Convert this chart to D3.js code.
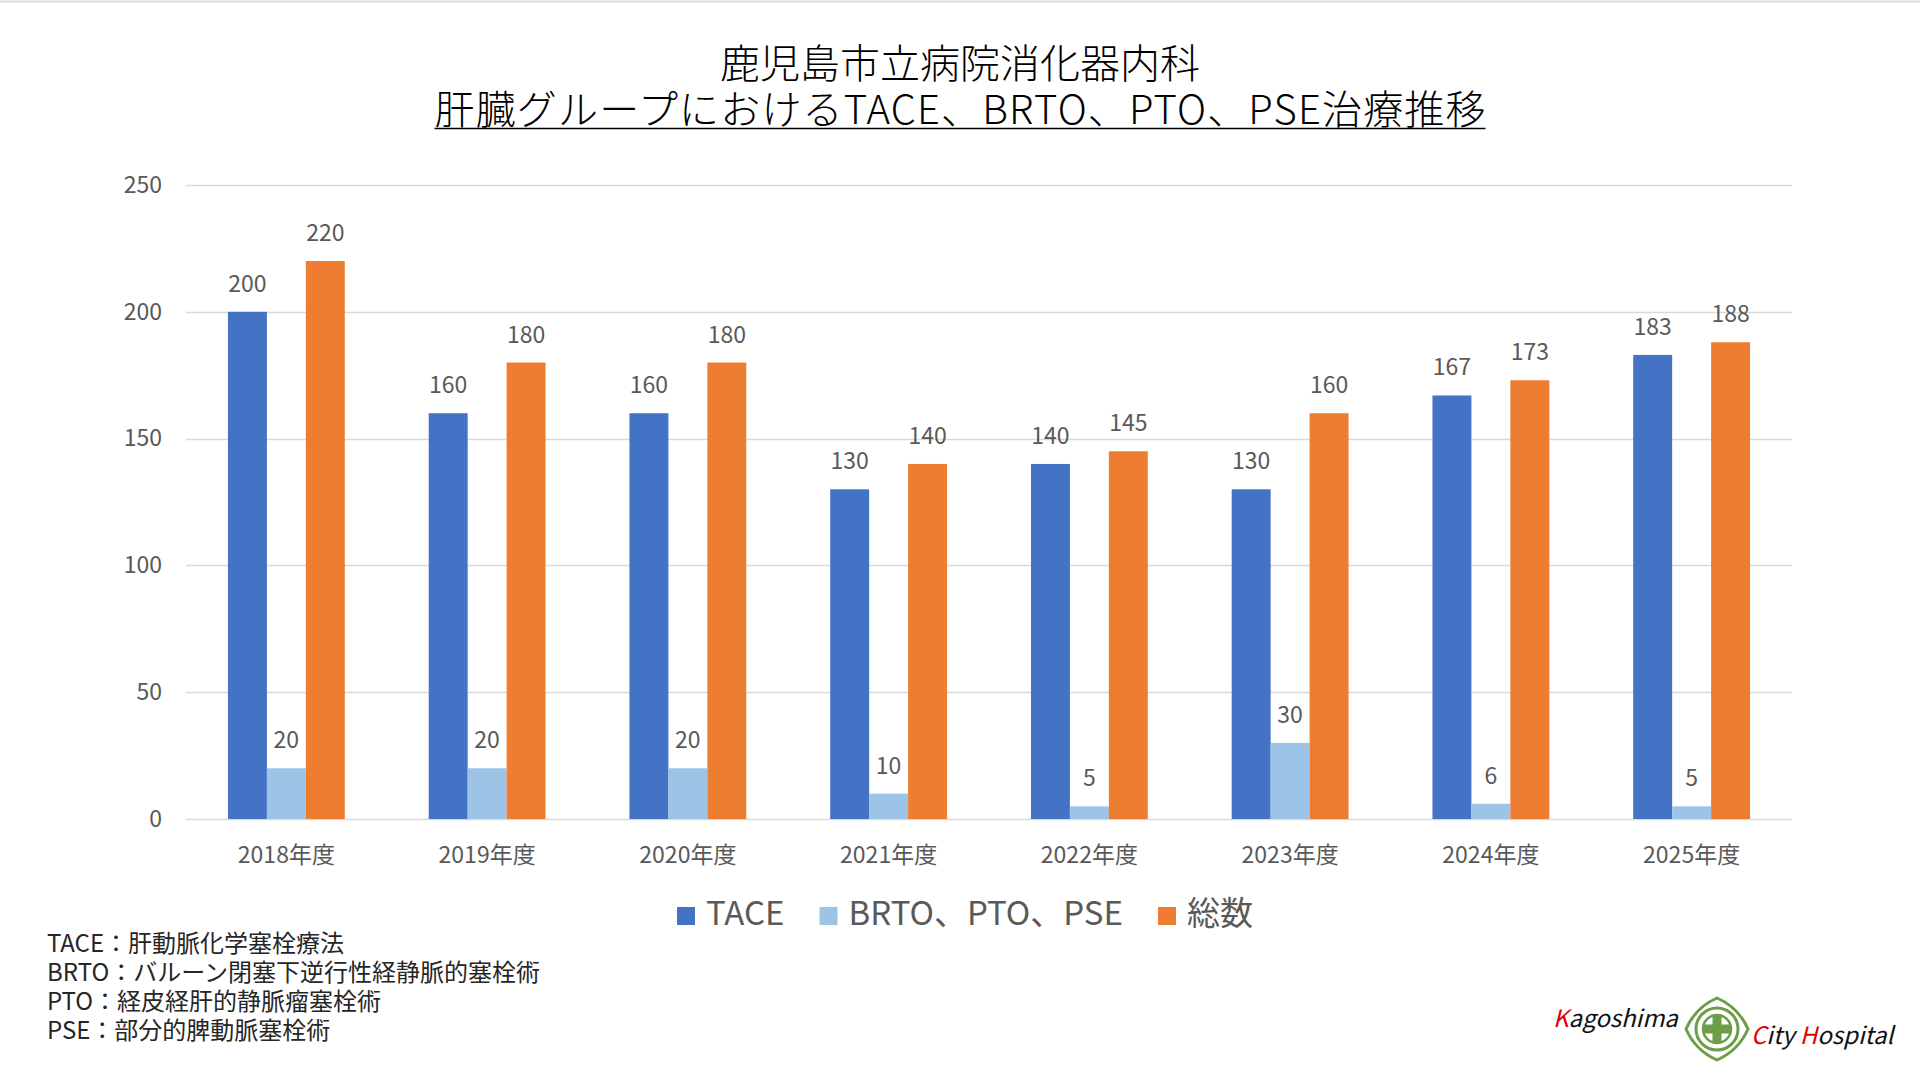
<!DOCTYPE html>
<html>
<head>
<meta charset="utf-8">
<script src="https://cdn.jsdelivr.net/npm/d3@7"></script>
<style>
  html, body { margin: 0; padding: 0; background: #fff; }
  svg { display: block; }
  text { font-family: "Noto Sans CJK JP", "Noto Sans", sans-serif; }
</style>
</head>
<body>
<svg width="1920" height="1080"></svg>
<script>
const years = ["2018年度", "2019年度", "2020年度", "2021年度", "2022年度", "2023年度", "2024年度", "2025年度"];
const tace = [200, 160, 160, 130, 140, 130, 167, 183];
const brto = [20, 20, 20, 10, 5, 30, 6, 5];
const total = [220, 180, 180, 140, 145, 160, 173, 188];
const seriesNames = ["TACE", "BRTO、PTO、PSE", "総数"];
const yTicks = [0, 50, 100, 150, 200, 250];
const titleLines = ["鹿児島市立病院消化器内科", "肝臓グループにおけるTACE、BRTO、PTO、PSE治療推移"];
const notes = [
  "TACE：肝動脈化学塞栓療法",
  "BRTO：バルーン閉塞下逆行性経静脈的塞栓術",
  "PTO：経皮経肝的静脈瘤塞栓術",
  "PSE：部分的脾動脈塞栓術"
];

const svg = d3.select("svg"),
      plot = {left: 186, right: 1792, top: 185, bottom: 819};

const series = [tace, brto, total];
const data = [];
years.forEach((yr, i) => {
  seriesNames.forEach((s, j) => data.push({year: yr, series: s, value: series[j][i]}));
});

const x0 = d3.scaleBand()
  .domain(years)
  .range([plot.left, plot.right])
  .paddingInner(0.418)
  .paddingOuter(0.209);

const x1 = d3.scaleBand()
  .domain(seriesNames)
  .range([0, x0.bandwidth()])
  .padding(0);

const y = d3.scaleLinear()
  .domain([0, 250])
  .range([plot.bottom, plot.top]);

const color = d3.scaleOrdinal()
  .domain(seriesNames)
  .range(["#4472c4", "#9dc3e6", "#ed7d31"]);

// thin rule at the very top
svg.append("line")
  .attr("x1", 0).attr("x2", 1920)
  .attr("y1", 1.5).attr("y2", 1.5)
  .attr("stroke", "#d9d9d9")
  .attr("stroke-width", 2);

// title
const title = svg.append("g");
title.append("text")
  .attr("x", 960).attr("y", 78)
  .attr("text-anchor", "middle")
  .attr("font-size", 40)
  .attr("font-weight", 300)
  .attr("fill", "#000")
  .text(titleLines[0]);
const tw = 1051;
title.append("text")
  .attr("x", 960).attr("y", 124)
  .attr("text-anchor", "middle")
  .attr("font-size", 40)
  .attr("font-weight", 300)
  .attr("fill", "#000")
  .attr("textLength", tw)
  .attr("lengthAdjust", "spacing")
  .text(titleLines[1]);
title.append("line")
  .attr("x1", 960 - tw / 2).attr("x2", 960 + tw / 2)
  .attr("y1", 128.5).attr("y2", 128.5)
  .attr("stroke", "#000")
  .attr("stroke-width", 1.5);

// grid
svg.append("g")
  .selectAll("line")
  .data(yTicks)
  .join("line")
  .attr("x1", plot.left).attr("x2", plot.right)
  .attr("y1", d => Math.round(y(d)) + 0.5)
  .attr("y2", d => Math.round(y(d)) + 0.5)
  .attr("stroke", "#d9d9d9")
  .attr("stroke-width", 1.5);

// y axis labels
const yAxis = svg.append("g")
  .attr("transform", `translate(${plot.left},0)`)
  .call(d3.axisLeft(y).tickValues(yTicks).tickSize(0).tickPadding(24));
yAxis.select(".domain").remove();
yAxis.selectAll("text")
  .attr("font-family", "\"Noto Sans CJK JP\", sans-serif")
  .attr("font-size", 23)
  .attr("fill", "#595959");

// x axis labels
const xAxis = svg.append("g")
  .attr("transform", `translate(0,${plot.bottom})`)
  .call(d3.axisBottom(x0).tickSize(0).tickPadding(28));
xAxis.select(".domain").remove();
xAxis.selectAll("text")
  .attr("font-family", "\"Noto Sans CJK JP\", sans-serif")
  .attr("font-size", 23)
  .attr("fill", "#595959");

// bars
const groups = svg.selectAll(".yearGroup")
  .data(d3.groups(data, d => d.year))
  .join("g")
  .attr("class", "yearGroup")
  .attr("transform", d => `translate(${x0(d[0])},0)`);

groups.selectAll("rect")
  .data(d => d[1])
  .join("rect")
  .attr("x", d => x1(d.series))
  .attr("y", d => y(d.value))
  .attr("width", x1.bandwidth())
  .attr("height", d => y(0) - y(d.value))
  .attr("fill", d => color(d.series));

groups.selectAll("text.label")
  .data(d => d[1])
  .join("text")
  .attr("class", "label")
  .attr("x", d => x1(d.series) + x1.bandwidth() / 2)
  .attr("y", d => y(d.value) - 20)
  .attr("text-anchor", "middle")
  .attr("font-size", 23)
  .attr("fill", "#595959")
  .text(d => d.value);

// legend
const legend = svg.append("g").attr("transform", "translate(677,907)");
let lx = 0;
seriesNames.forEach(name => {
  const item = legend.append("g").attr("transform", `translate(${lx},0)`);
  item.append("rect")
    .attr("width", 18).attr("height", 18)
    .attr("fill", color(name));
  const txt = item.append("text")
    .attr("x", 29).attr("y", 18)
    .attr("font-size", 33)
    .attr("fill", "#595959")
    .text(name);
  lx += 29 + txt.node().getComputedTextLength() + 35;
});

// footnotes
svg.append("g")
  .selectAll("text")
  .data(notes)
  .join("text")
  .attr("x", 47)
  .attr("y", (d, i) => 952 + i * 29)
  .attr("font-size", 24)
  .attr("fill", "#262626")
  .text(d => d);

// hospital logo
const logo = svg.append("g");
const logoText = (x, yy, parts) => {
  const t = logo.append("text")
    .attr("x", x).attr("y", yy)
    .attr("font-family", "Lato, \"Open Sans\", sans-serif")
    .attr("font-style", "italic")
    .attr("font-size", 24);
  parts.forEach(p => t.append("tspan").attr("fill", p[1]).text(p[0]));
};
logoText(1553, 1027, [["K", "#e00000"], ["agoshima", "#111"]]);
logoText(1751, 1044, [["C", "#e00000"], ["ity ", "#111"], ["H", "#e00000"], ["ospital", "#111"]]);

const green = "#6b9e47";
const em = logo.append("g").attr("transform", "translate(1717,1029)");
// four-pointed outer ornament
const star = d3.path();
const R = 31, r0 = 21;
for (let k = 0; k < 4; k++) {
  const a = k * Math.PI / 2 - Math.PI / 2;
  const b = a + Math.PI / 2;
  const px = R * Math.cos(a), py = R * Math.sin(a);
  if (k === 0) star.moveTo(px, py);
  const mx = r0 * Math.cos(a + Math.PI / 4), my = r0 * Math.sin(a + Math.PI / 4);
  star.quadraticCurveTo(mx * 1.45, my * 1.45, R * Math.cos(b), R * Math.sin(b));
}
star.closePath();
em.append("path")
  .attr("d", star.toString())
  .attr("fill", "none")
  .attr("stroke", green)
  .attr("stroke-width", 3);
em.append("circle").attr("r", 21).attr("fill", "none").attr("stroke", green).attr("stroke-width", 3);
em.append("circle").attr("r", 14).attr("fill", "none").attr("stroke", green).attr("stroke-width", 2.5);
em.append("rect").attr("x", -4.5).attr("y", -13).attr("width", 9).attr("height", 26).attr("fill", green);
em.append("rect").attr("x", -13).attr("y", -4.5).attr("width", 26).attr("height", 9).attr("fill", green);
</script>
</body>
</html>
